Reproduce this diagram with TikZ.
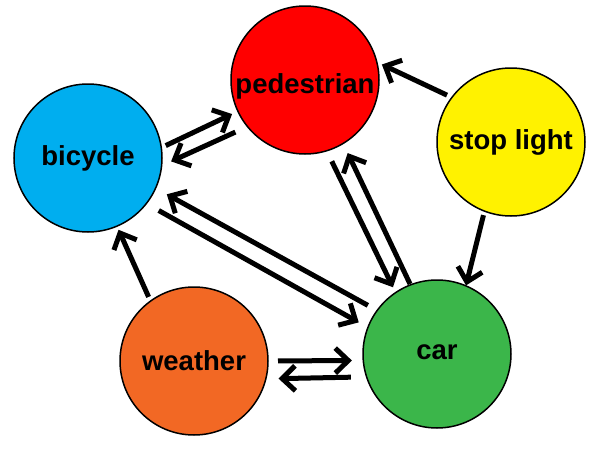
\documentclass[tikz,border=0pt]{standalone}
\usepackage{fontspec}
\setmainfont{Liberation Sans}
\usetikzlibrary{arrows.meta}
\definecolor{cbic}{RGB}{0,174,239}
\definecolor{cped}{RGB}{255,0,0}
\definecolor{cstop}{RGB}{255,242,0}
\definecolor{cwea}{RGB}{242,104,36}
\definecolor{ccar}{RGB}{59,182,74}
\tikzset{
  ball/.style={circle, draw=black, line width=1.5pt, minimum size=148pt, inner sep=0pt, outer sep=0pt,
    font=\fontsize{27.5}{32}\selectfont\bfseries},
  arr/.style={line width=5pt, -{Straight Barb[length=13pt, width=25pt, line cap=butt]}}
}
\begin{document}
\begin{tikzpicture}[x=1pt,y=-1pt]
\useasboundingbox (0,0) rectangle (600,450);
\node[ball, fill=cbic] (bic) at (88,158) {bicycle};
\node[ball, fill=cped] (ped) at (305,80) {\raisebox{-6pt}[\height][\depth]{pedestrian}};
\node[ball, fill=cstop] (stop) at (511,142) {stop light};
\node[ball, fill=cwea] (wea) at (194,361) {weather};
\node[ball, fill=ccar] (car) at (437,354) {\raisebox{2pt}[\height][\depth]{car}};
% bicycle <-> pedestrian
\draw[arr, shorten <=4.9pt, shorten >=6.5pt] (bic.8.75) -- (ped.205);
\draw[arr, shorten <=13.3pt, shorten >=10.5pt] (ped.219.9) -- (bic.-6.1);
% bicycle <-> car
\draw[arr, shorten <=14.2pt, shorten >=10.5pt] (bic.-38.6) -- (car.159.2);
\draw[arr, shorten <=10.6pt, shorten >=12.8pt] (car.144.6) -- (bic.-24.5);
% weather -> bicycle
\draw[arr, shorten <=4.6pt, shorten >=4pt] (wea.126.7) -- (bic.-67.4);
% weather <-> car
\draw[arr, shorten <=10pt, shorten >=11.4pt] (wea.-0.7) -- (car.185.4);
\draw[arr, shorten <=15.8pt, shorten >=12.8pt] (car.198.8) -- (wea.-14.7);
% stop light -> pedestrian
\draw[arr, shorten <=5.4pt, shorten >=5.6pt] (stop.143.7) -- (ped.14.6);
% pedestrian <-> car
\draw[arr, shorten <=11.7pt, shorten >=6pt] (ped.-73) -- (car.124.5);
\draw[arr, shorten <=1pt, shorten >=10.7pt] (car.111.5) -- (ped.-59.5);
% stop light -> car
\draw[arr, shorten <=4.2pt, shorten >=0.5pt] (stop.-111) -- (car.67.9);
\end{tikzpicture}
\end{document}
